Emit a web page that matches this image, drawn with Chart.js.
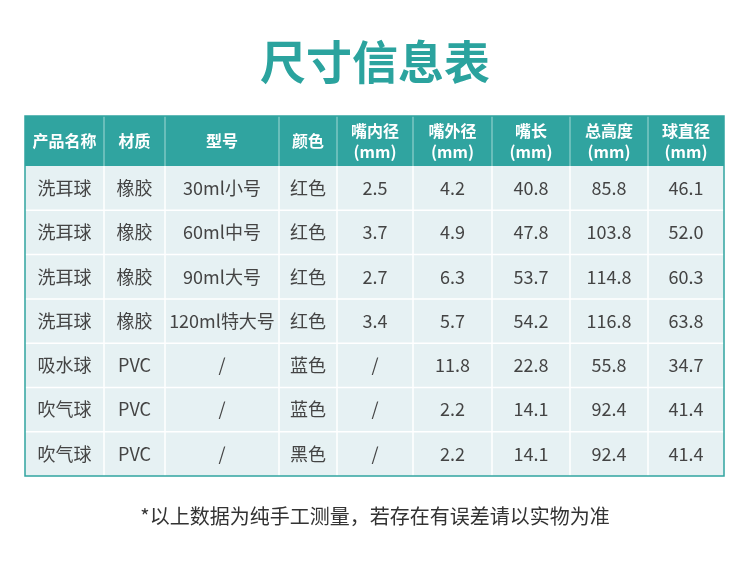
<!DOCTYPE html>
<html><head><meta charset="utf-8">
<script src="https://cdn.jsdelivr.net/npm/chart.js@4"></script>
<style>html,body{margin:0;padding:0;background:#fff}#w{width:750px;height:574px}</style>
</head><body><div id="w"><canvas id="c"></canvas></div>
<script>
const title = "尺寸信息表";
const note = "*以上数据为纯手工测量，若存在有误差请以实物为准";
const headers = [["产品名称"],["材质"],["型号"],["颜色"],["嘴内径","(mm)"],["嘴外径","(mm)"],["嘴长","(mm)"],["总高度","(mm)"],["球直径","(mm)"]];
const names = ["洗耳球","洗耳球","洗耳球","洗耳球","吸水球","吹气球","吹气球"];
const materials = ["橡胶","橡胶","橡胶","橡胶","PVC","PVC","PVC"];
const models = ["30ml小号","60ml中号","90ml大号","120ml特大号","/","/","/"];
const colors = ["红色","红色","红色","红色","蓝色","蓝色","黑色"];
const innerDia = ["2.5","3.7","2.7","3.4","/","/","/"];
const outerDia = ["4.2","4.9","6.3","5.7","11.8","2.2","2.2"];
const mouthLen = ["40.8","47.8","53.7","54.2","22.8","14.1","14.1"];
const totalH = ["85.8","103.8","114.8","116.8","55.8","92.4","92.4"];
const ballDia = ["46.1","52.0","60.3","63.8","34.7","41.4","41.4"];
const cols = [names,materials,models,colors,innerDia,outerDia,mouthLen,totalH,ballDia];
const colEdges = [0,79,140,254,312,388,467,545,623,699];
const rowEdges = [0,50,94.3,138.6,182.9,227.2,271.5,315.8,360];
const F = '"Noto Sans CJK SC","Noto Sans",sans-serif';
const tablePlugin = {
  id:'table',
  afterDraw(chart){
    const ctx = chart.ctx, xs = chart.scales.x, ys = chart.scales.y;
    const X = v=>xs.getPixelForValue(v), Y = r=>ys.getPixelForValue(rowEdges[r]);
    ctx.save();
    ctx.fillStyle='#2ba39e'; ctx.font='bold 46px '+F; ctx.textAlign='center'; ctx.textBaseline='middle';
    ctx.fillText(title,375,62);
    const x0=X(0),x1=X(699);
    ctx.fillStyle='#30a4a0'; ctx.fillRect(x0,Y(0),x1-x0,Y(1)-Y(0));
    ctx.fillStyle='#e6f1f3'; ctx.fillRect(x0,Y(1),x1-x0,Y(8)-Y(1));
    ctx.strokeStyle='#ffffff'; ctx.lineWidth=1.5;
    for(let r=2;r<8;r++){ctx.beginPath();ctx.moveTo(x0,Y(r));ctx.lineTo(x1,Y(r));ctx.stroke();}
    for(let c=1;c<9;c++){ctx.strokeStyle='#ffffff';ctx.beginPath();ctx.moveTo(X(colEdges[c]),Y(1));ctx.lineTo(X(colEdges[c]),Y(8));ctx.stroke();
      ctx.strokeStyle='#7cc7c3';ctx.beginPath();ctx.moveTo(X(colEdges[c]),Y(0));ctx.lineTo(X(colEdges[c]),Y(1));ctx.stroke();}
    ctx.strokeStyle='#30a4a0'; ctx.lineWidth=1.5; ctx.strokeRect(x0,Y(0),x1-x0,Y(8)-Y(0));
    for(let c=0;c<9;c++){
      const cx=(X(colEdges[c])+X(colEdges[c+1]))/2;
      ctx.fillStyle='#fff'; ctx.font='bold 16px '+F;
      const h=headers[c], cy=(Y(0)+Y(1))/2;
      if(h.length===1) ctx.fillText(h[0],cx,cy);
      else {ctx.fillText(h[0],cx,cy-10);ctx.fillText(h[1],cx,cy+11);}
      ctx.fillStyle='#444'; ctx.font='18px '+F;
      cols[c].forEach((t,r)=>ctx.fillText(t,cx,(Y(r+1)+Y(r+2))/2));
    }
    ctx.fillStyle='#333'; ctx.font='20px '+F; ctx.fillText(note,375,516);
    ctx.restore();
  }
};
new Chart(document.getElementById('c'),{
  type:'scatter', data:{datasets:[{data:[]}]},
  options:{responsive:true,maintainAspectRatio:false,animation:false,
    layout:{padding:{left:25,right:26,top:116,bottom:98}},
    plugins:{legend:{display:false},tooltip:{enabled:false}},
    scales:{x:{type:'linear',min:0,max:699,display:false},y:{type:'linear',min:0,max:360,reverse:true,display:false}}},
  plugins:[tablePlugin]
});
</script></body></html>
